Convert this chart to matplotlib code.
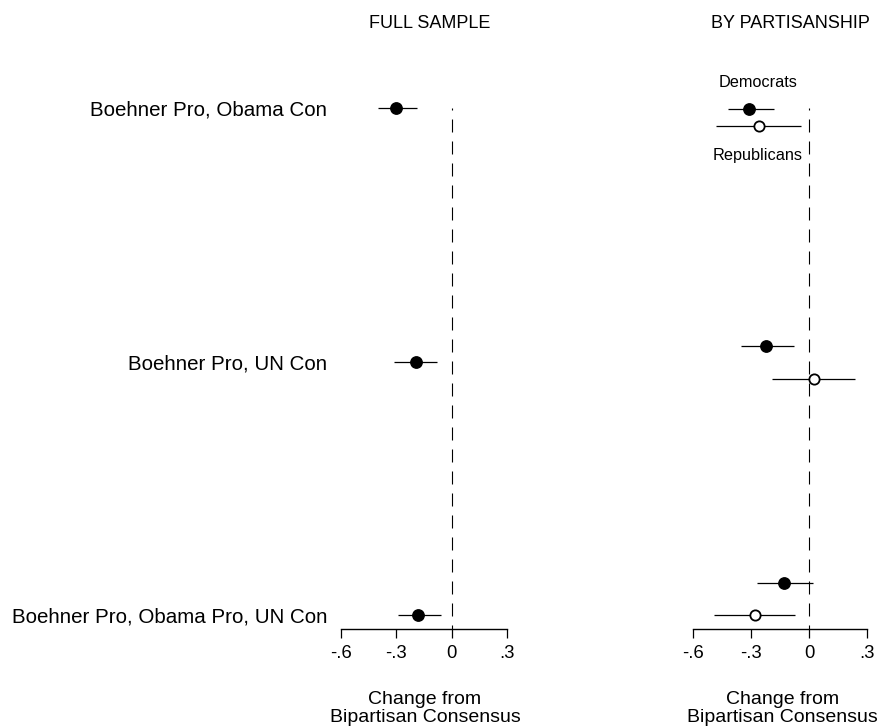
import matplotlib
matplotlib.use("Agg")
import matplotlib.pyplot as plt

plt.rcParams['font.family'] = ['Liberation Sans', 'DejaVu Sans']
plt.rcParams['lines.scale_dashes'] = False

# ---- data ----
categories = ["Boehner Pro, Obama Con", "Boehner Pro, UN Con", "Boehner Pro, Obama Pro, UN Con"]
full_est = [-0.30, -0.195, -0.18]
full_lo = [-0.40, -0.31, -0.29]
full_hi = [-0.19, -0.08, -0.06]

dem_est = [-0.31, -0.22, -0.13]
dem_lo = [-0.42, -0.35, -0.27]
dem_hi = [-0.18, -0.08, 0.02]

rep_est = [-0.26, 0.025, -0.28]
rep_lo = [-0.48, -0.19, -0.49]
rep_hi = [-0.04, 0.24, -0.07]

xticks = [-0.6, -0.3, 0.0, 0.3]
xtick_labels = ["-.6", "-.3", "0", ".3"]

# ---- layout (positions) ----
W, H = 882, 726
fig = plt.figure(figsize=(W / 100, H / 100), dpi=100)

pos_full = [0, 1, 2]
pos_dem = [0.004, 0.939, 1.874]
pos_rep = [0.071, 1.069, 2.0]
y_bottom, y_top = 2.055, -0.071

def px(x0, y0, x1, y1):
    return [x0 / W, 1 - y1 / H, (x1 - x0) / W, (y1 - y0) / H]

axL = fig.add_axes(px(341, 90, 507, 629))
axR = fig.add_axes(px(693, 90, 867, 629))

for ax in (axL, axR):
    ax.set_xlim(-0.6, 0.3)
    ax.set_ylim(y_bottom, y_top)
    for s in ("top", "right", "left"):
        ax.spines[s].set_visible(False)
    ax.spines["bottom"].set_linewidth(1.0)
    ax.set_xticks(xticks)
    ax.set_xticklabels(xtick_labels, fontsize=13.3)
    ax.tick_params(axis="x", length=6.5, width=0.9, pad=5, color="black")
    ax.patch.set_alpha(0)
    ax.plot([0, 0], [0, y_bottom], color="black", lw=0.8, clip_on=False,
            linestyle=(7.92, (9.36, 6.48)))

# left panel
axL.set_yticks(pos_full)
axL.set_yticklabels(categories, fontsize=14.8)
axL.tick_params(axis="y", length=0, pad=10)
axL.hlines(pos_full, full_lo, full_hi, color="black", lw=0.9, clip_on=False)
axL.plot(full_est, pos_full, "o", color="black", ms=8.2, clip_on=False, zorder=3)

# right panel
axR.set_yticks([])
axR.hlines(pos_dem, dem_lo, dem_hi, color="black", lw=0.9, clip_on=False)
axR.hlines(pos_rep, rep_lo, rep_hi, color="black", lw=0.9, clip_on=False)
axR.plot(dem_est, pos_dem, "o", color="black", ms=8.2, clip_on=False, zorder=3)
axR.plot(rep_est, pos_rep, "o", mfc="white", mec="black", mew=1.3, ms=7.4,
         clip_on=False, zorder=3)

# annotations
fig.text(758.5 / W, 1 - 87 / H, "Democrats", fontsize=11.7, ha="center", va="baseline")
fig.text(757.5 / W, 1 - 160 / H, "Republicans", fontsize=11.7, ha="center", va="baseline")

# titles
fig.text(430 / W, 1 - 28 / H, "FULL SAMPLE", fontsize=13, ha="center", va="baseline")
fig.text(790 / W, 1 - 28 / H, "BY PARTISANSHIP", fontsize=13, ha="center", va="baseline")

# x labels
for cx in (425, 782.5):
    fig.text(cx / W, 1 - 704 / H, "Change from", fontsize=14, ha="center", va="baseline")
    fig.text(cx / W, 1 - 722 / H, "Bipartisan Consensus", fontsize=14, ha="center", va="baseline")

fig.savefig("out.png", dpi=100, facecolor="white")
